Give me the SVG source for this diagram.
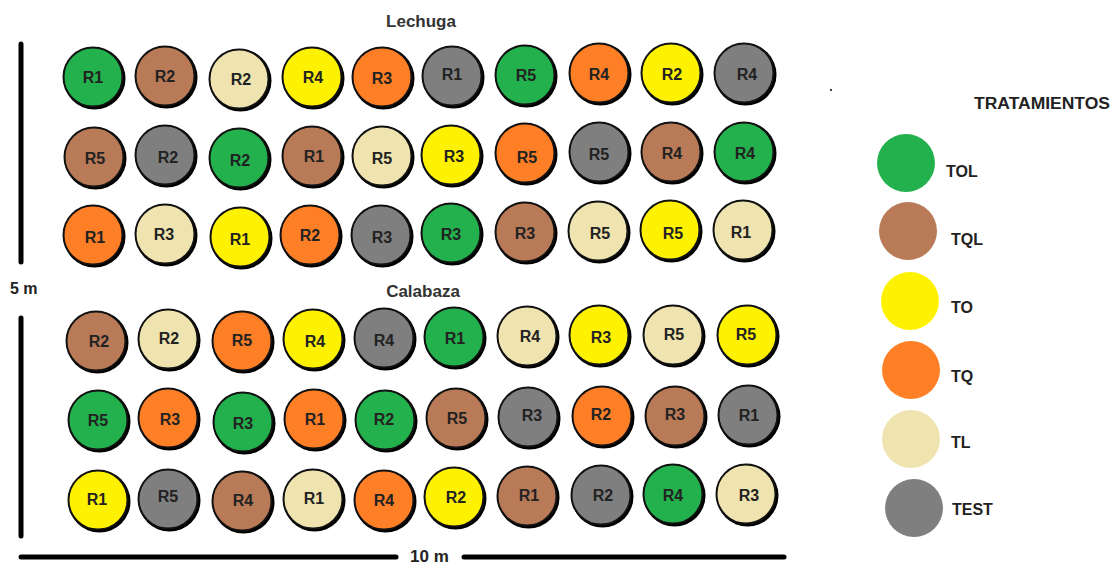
<svg xmlns="http://www.w3.org/2000/svg" width="1113" height="564" viewBox="0 0 1113 564">
<style>
text{font-family:"Liberation Sans",Arial,sans-serif;font-weight:bold}
.sh{fill:#000}
.c{stroke:#111;stroke-width:2}
.l{font-size:16px;fill:#222;text-anchor:middle}
.t{font-size:17px;fill:#333;text-anchor:middle}
.lg{font-size:16px;fill:#222}
.g{fill:#22b14c}.b{fill:#b97a57}.e{fill:#efe4b0}.y{fill:#fff200}.o{fill:#ff7f27}.a{fill:#7f7f7f}
.bar{stroke:#000;stroke-width:5;stroke-linecap:round}
</style>
<rect width="1113" height="564" fill="#fff"/>
<g id="titles">
<text class="t" x="421" y="27">Lechuga</text>
<text class="t" x="423" y="297">Calabaza</text>
</g>
<g id="scale">
<line class="bar" x1="21" y1="44" x2="21" y2="262"/>
<line class="bar" x1="21" y1="318" x2="21" y2="536"/>
<line class="bar" x1="21" y1="557" x2="396" y2="557"/>
<line class="bar" x1="464" y1="557" x2="784" y2="557"/>
<text x="10" y="294" style="font-size:16px;fill:#222">5 m</text>
<text x="410" y="562" style="font-size:17px;fill:#222">10 m</text>
<circle cx="831" cy="90" r="1" fill="#000"/>
</g>
<g id="lechuga">
<g id="L1-1"><circle class="sh" cx="94.5" cy="78.5" r="31"/><circle class="c g" cx="93" cy="77" r="29.5"/><text class="l" x="93" y="83">R1</text></g>
<g id="L1-2"><circle class="sh" cx="166.5" cy="77.5" r="31"/><circle class="c b" cx="165" cy="76" r="29.5"/><text class="l" x="165" y="82">R2</text></g>
<g id="L1-3"><circle class="sh" cx="240.5" cy="80.5" r="31"/><circle class="c e" cx="239" cy="79" r="29.5"/><text class="l" x="241" y="85">R2</text></g>
<g id="L1-4"><circle class="sh" cx="313.5" cy="78.5" r="31"/><circle class="c y" cx="312" cy="77" r="29.5"/><text class="l" x="313" y="83">R4</text></g>
<g id="L1-5"><circle class="sh" cx="383.5" cy="78.5" r="31"/><circle class="c o" cx="382" cy="77" r="29.5"/><text class="l" x="382" y="84">R3</text></g>
<g id="L1-6"><circle class="sh" cx="453.5" cy="77.5" r="31"/><circle class="c a" cx="452" cy="76" r="29.5"/><text class="l" x="452" y="80">R1</text></g>
<g id="L1-7"><circle class="sh" cx="526.5" cy="76.5" r="31"/><circle class="c g" cx="525" cy="75" r="29.5"/><text class="l" x="526" y="81">R5</text></g>
<g id="L1-8"><circle class="sh" cx="600.5" cy="74.5" r="31"/><circle class="c o" cx="599" cy="73" r="29.5"/><text class="l" x="599" y="80">R4</text></g>
<g id="L1-9"><circle class="sh" cx="672.5" cy="74.5" r="31"/><circle class="c y" cx="671" cy="73" r="29.5"/><text class="l" x="672" y="80">R2</text></g>
<g id="L1-10"><circle class="sh" cx="745.5" cy="74.5" r="31"/><circle class="c a" cx="744" cy="73" r="29.5"/><text class="l" x="747" y="80">R4</text></g>

<g id="L2-1"><circle class="sh" cx="95.5" cy="158.5" r="31"/><circle class="c b" cx="94" cy="157" r="29.5"/><text class="l" x="95" y="164">R5</text></g>
<g id="L2-2"><circle class="sh" cx="166.5" cy="156.5" r="31"/><circle class="c a" cx="165" cy="155" r="29.5"/><text class="l" x="168" y="163">R2</text></g>
<g id="L2-3"><circle class="sh" cx="240.5" cy="159.5" r="31"/><circle class="c g" cx="239" cy="158" r="29.5"/><text class="l" x="240" y="166">R2</text></g>
<g id="L2-4"><circle class="sh" cx="313.5" cy="157.5" r="31"/><circle class="c b" cx="312" cy="156" r="29.5"/><text class="l" x="314" y="162">R1</text></g>
<g id="L2-5"><circle class="sh" cx="383.5" cy="157.5" r="31"/><circle class="c e" cx="382" cy="156" r="29.5"/><text class="l" x="382" y="164">R5</text></g>
<g id="L2-6"><circle class="sh" cx="452.5" cy="156.5" r="31"/><circle class="c y" cx="451" cy="155" r="29.5"/><text class="l" x="454" y="162">R3</text></g>
<g id="L2-7"><circle class="sh" cx="526.5" cy="154.5" r="31"/><circle class="c o" cx="525" cy="153" r="29.5"/><text class="l" x="527" y="163">R5</text></g>
<g id="L2-8"><circle class="sh" cx="600.5" cy="153.5" r="31"/><circle class="c a" cx="599" cy="152" r="29.5"/><text class="l" x="599" y="160">R5</text></g>
<g id="L2-9"><circle class="sh" cx="672.5" cy="153.5" r="31"/><circle class="c b" cx="671" cy="152" r="29.5"/><text class="l" x="672" y="159">R4</text></g>
<g id="L2-10"><circle class="sh" cx="745.5" cy="153.5" r="31"/><circle class="c g" cx="744" cy="152" r="29.5"/><text class="l" x="745" y="159">R4</text></g>

<g id="L3-1"><circle class="sh" cx="94.5" cy="236.5" r="31"/><circle class="c o" cx="93" cy="235" r="29.5"/><text class="l" x="95" y="243">R1</text></g>
<g id="L3-2"><circle class="sh" cx="166.5" cy="235.5" r="31"/><circle class="c e" cx="165" cy="234" r="29.5"/><text class="l" x="164" y="240">R3</text></g>
<g id="L3-3"><circle class="sh" cx="241.5" cy="238.5" r="31"/><circle class="c y" cx="240" cy="237" r="29.5"/><text class="l" x="240" y="245">R1</text></g>
<g id="L3-4"><circle class="sh" cx="311.5" cy="236.5" r="31"/><circle class="c o" cx="310" cy="235" r="29.5"/><text class="l" x="310" y="241">R2</text></g>
<g id="L3-5"><circle class="sh" cx="382.5" cy="236.5" r="31"/><circle class="c a" cx="381" cy="235" r="29.5"/><text class="l" x="382" y="243">R3</text></g>
<g id="L3-6"><circle class="sh" cx="452.5" cy="234.5" r="31"/><circle class="c g" cx="451" cy="233" r="29.5"/><text class="l" x="451" y="240">R3</text></g>
<g id="L3-7"><circle class="sh" cx="526.5" cy="233.5" r="31"/><circle class="c b" cx="525" cy="232" r="29.5"/><text class="l" x="525" y="239">R3</text></g>
<g id="L3-8"><circle class="sh" cx="599.5" cy="232.5" r="31"/><circle class="c e" cx="598" cy="231" r="29.5"/><text class="l" x="600" y="239">R5</text></g>
<g id="L3-9"><circle class="sh" cx="671.5" cy="231.5" r="31"/><circle class="c y" cx="670" cy="230" r="29.5"/><text class="l" x="673" y="239">R5</text></g>
<g id="L3-10"><circle class="sh" cx="744.5" cy="231.5" r="31"/><circle class="c e" cx="743" cy="230" r="29.5"/><text class="l" x="741" y="238">R1</text></g>
</g>
<g id="calabaza">
<g id="C1-1"><circle class="sh" cx="97.5" cy="342.5" r="31"/><circle class="c b" cx="96" cy="341" r="29.5"/><text class="l" x="99" y="347">R2</text></g>
<g id="C1-2"><circle class="sh" cx="169.5" cy="340.5" r="31"/><circle class="c e" cx="168" cy="339" r="29.5"/><text class="l" x="169" y="344">R2</text></g>
<g id="C1-3"><circle class="sh" cx="243.5" cy="342.5" r="31"/><circle class="c o" cx="242" cy="341" r="29.5"/><text class="l" x="242" y="346">R5</text></g>
<g id="C1-4"><circle class="sh" cx="314.5" cy="340.5" r="31"/><circle class="c y" cx="313" cy="339" r="29.5"/><text class="l" x="315" y="347">R4</text></g>
<g id="C1-5"><circle class="sh" cx="385.5" cy="339.5" r="31"/><circle class="c a" cx="384" cy="338" r="29.5"/><text class="l" x="384" y="346">R4</text></g>
<g id="C1-6"><circle class="sh" cx="455.5" cy="338.5" r="31"/><circle class="c g" cx="454" cy="337" r="29.5"/><text class="l" x="455" y="344">R1</text></g>
<g id="C1-7"><circle class="sh" cx="528.5" cy="337.5" r="31"/><circle class="c e" cx="527" cy="336" r="29.5"/><text class="l" x="530" y="342">R4</text></g>
<g id="C1-8"><circle class="sh" cx="600.5" cy="336.5" r="31"/><circle class="c y" cx="599" cy="335" r="29.5"/><text class="l" x="601" y="343">R3</text></g>
<g id="C1-9"><circle class="sh" cx="674.5" cy="336.5" r="31"/><circle class="c e" cx="673" cy="335" r="29.5"/><text class="l" x="674" y="340">R5</text></g>
<g id="C1-10"><circle class="sh" cx="748.5" cy="336.5" r="31"/><circle class="c y" cx="747" cy="335" r="29.5"/><text class="l" x="746" y="340">R5</text></g>

<g id="C2-1"><circle class="sh" cx="99.5" cy="421.5" r="31"/><circle class="c g" cx="98" cy="420" r="29.5"/><text class="l" x="98" y="426">R5</text></g>
<g id="C2-2"><circle class="sh" cx="169.5" cy="419.5" r="31"/><circle class="c o" cx="168" cy="418" r="29.5"/><text class="l" x="170" y="425">R3</text></g>
<g id="C2-3"><circle class="sh" cx="244.5" cy="423.5" r="31"/><circle class="c g" cx="243" cy="422" r="29.5"/><text class="l" x="243" y="429">R3</text></g>
<g id="C2-4"><circle class="sh" cx="315.5" cy="420.5" r="31"/><circle class="c o" cx="314" cy="419" r="29.5"/><text class="l" x="315" y="425">R1</text></g>
<g id="C2-5"><circle class="sh" cx="386.5" cy="421.5" r="31"/><circle class="c g" cx="385" cy="420" r="29.5"/><text class="l" x="384" y="425">R2</text></g>
<g id="C2-6"><circle class="sh" cx="457.5" cy="419.5" r="31"/><circle class="c b" cx="456" cy="418" r="29.5"/><text class="l" x="457" y="424">R5</text></g>
<g id="C2-7"><circle class="sh" cx="529.5" cy="418.5" r="31"/><circle class="c a" cx="528" cy="417" r="29.5"/><text class="l" x="532" y="421">R3</text></g>
<g id="C2-8"><circle class="sh" cx="603.5" cy="417.5" r="31"/><circle class="c o" cx="602" cy="416" r="29.5"/><text class="l" x="601" y="420">R2</text></g>
<g id="C2-9"><circle class="sh" cx="676.5" cy="417.5" r="31"/><circle class="c b" cx="675" cy="416" r="29.5"/><text class="l" x="675" y="420">R3</text></g>
<g id="C2-10"><circle class="sh" cx="749.5" cy="416.5" r="31"/><circle class="c a" cx="748" cy="415" r="29.5"/><text class="l" x="749" y="421">R1</text></g>

<g id="C3-1"><circle class="sh" cx="99.5" cy="501.5" r="31"/><circle class="c y" cx="98" cy="500" r="29.5"/><text class="l" x="97" y="505">R1</text></g>
<g id="C3-2"><circle class="sh" cx="169.5" cy="500.5" r="31"/><circle class="c a" cx="168" cy="499" r="29.5"/><text class="l" x="168" y="502">R5</text></g>
<g id="C3-3"><circle class="sh" cx="243.5" cy="502.5" r="31"/><circle class="c b" cx="242" cy="501" r="29.5"/><text class="l" x="243" y="506">R4</text></g>
<g id="C3-4"><circle class="sh" cx="314.5" cy="500.5" r="31"/><circle class="c e" cx="313" cy="499" r="29.5"/><text class="l" x="314" y="504">R1</text></g>
<g id="C3-5"><circle class="sh" cx="385.5" cy="501.5" r="31"/><circle class="c o" cx="384" cy="500" r="29.5"/><text class="l" x="384" y="506">R4</text></g>
<g id="C3-6"><circle class="sh" cx="455.5" cy="498.5" r="31"/><circle class="c y" cx="454" cy="497" r="29.5"/><text class="l" x="456" y="503">R2</text></g>
<g id="C3-7"><circle class="sh" cx="528.5" cy="497.5" r="31"/><circle class="c b" cx="527" cy="496" r="29.5"/><text class="l" x="529" y="501">R1</text></g>
<g id="C3-8"><circle class="sh" cx="602.5" cy="496.5" r="31"/><circle class="c a" cx="601" cy="495" r="29.5"/><text class="l" x="603" y="501">R2</text></g>
<g id="C3-9"><circle class="sh" cx="674.5" cy="495.5" r="31"/><circle class="c g" cx="673" cy="494" r="29.5"/><text class="l" x="673" y="501">R4</text></g>
<g id="C3-10"><circle class="sh" cx="747.5" cy="495.5" r="31"/><circle class="c e" cx="746" cy="494" r="29.5"/><text class="l" x="749" y="501">R3</text></g>
</g>
<g id="legend">
<text x="974" y="109" style="font-size:16px;fill:#222" textLength="136" lengthAdjust="spacingAndGlyphs">TRATAMIENTOS</text>
<g id="leg-TOL"><circle class="g" cx="906" cy="163" r="29"/><text class="lg" x="946" y="177">TOL</text></g>
<g id="leg-TQL"><circle class="b" cx="908" cy="231" r="29"/><text class="lg" x="951" y="245">TQL</text></g>
<g id="leg-TO"><circle class="y" cx="910" cy="301" r="29"/><text class="lg" x="951" y="313">TO</text></g>
<g id="leg-TQ"><circle class="o" cx="911" cy="370" r="29"/><text class="lg" x="951" y="382">TQ</text></g>
<g id="leg-TL"><circle class="e" cx="911" cy="439" r="29"/><text class="lg" x="951" y="448">TL</text></g>
<g id="leg-TEST"><circle class="a" cx="914" cy="508" r="29"/><text class="lg" x="952" y="515">TEST</text></g>
</g>
</svg>
